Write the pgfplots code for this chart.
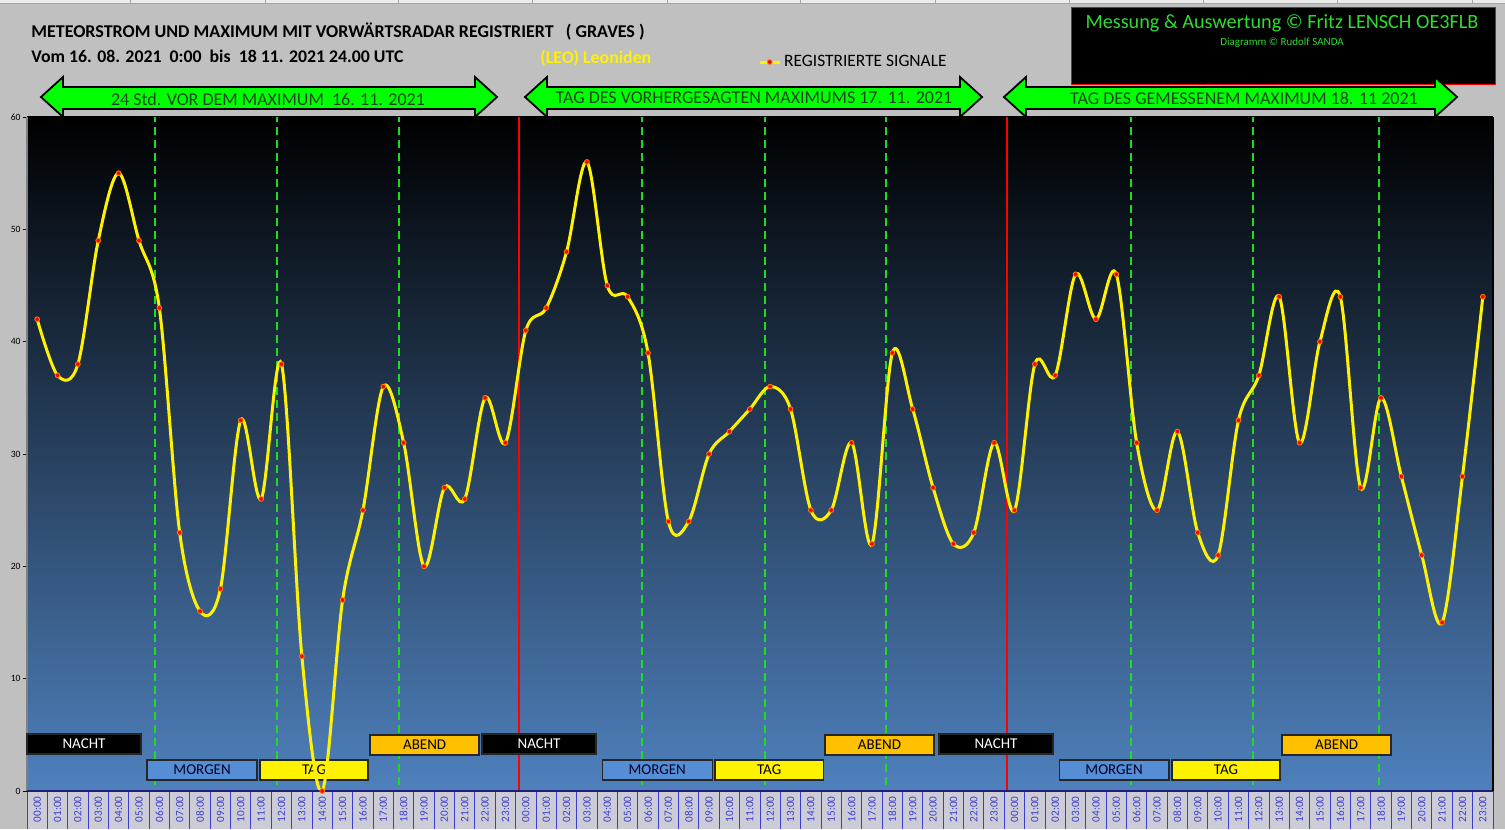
\documentclass[border=0pt]{standalone}
\usepackage{fontspec}
\setmainfont{Carlito}
\usepackage{pgfplots}
\pgfplotsset{compat=1.18}
\definecolor{bggray}{RGB}{192,192,192}
\definecolor{arrowgreen}{RGB}{0,255,0}
\definecolor{arrowtext}{RGB}{30,70,30}
\definecolor{boxgreen}{RGB}{45,220,45}
\definecolor{morgen}{RGB}{85,142,213}
\definecolor{abend}{RGB}{255,192,0}
\definecolor{ticklab}{RGB}{60,60,210}
\definecolor{dashgreen}{RGB}{30,220,30}
\definecolor{stripbg}{RGB}{204,204,214}
\definecolor{navyline}{RGB}{30,30,120}
\newcommand{\dbox}[8]{%
  \filldraw[fill=#5, draw=black!85, line width=0.6pt] (axis cs:#1,#3) rectangle (axis cs:#2,#4);
  \node[text=#6, font=\fontsize{7.5}{9}\selectfont, inner sep=0pt] at (axis cs:#7,{0.5*(#3+#4)}) {#8};}
\begin{document}
\begin{tikzpicture}
\begin{scope}[x=0.5pt,y=-0.5pt]
\useasboundingbox (0,0) rectangle (1505,829);
\fill[bggray] (0,0) rectangle (1505,829);
\fill[gray!15] (0,0) rectangle (1505,3);
\draw[gray!70, line width=0.4pt] (0,3) -- (1505,3);
\foreach \cx in {130,265,398,532,667,800,935,1069,1203,1337,1472}{\draw[gray!70, line width=0.4pt] (\cx,0) -- (\cx,3);}
\fill[stripbg] (27,791) rectangle (1493,829);
% info box
\fill[black] (1071,7) rectangle (1495,84);
\draw[red, line width=0.5pt] (1071,7) rectangle (1495,84);
\node[text=boxgreen, font=\fontsize{10.1}{12}\selectfont, inner sep=0pt] at (1282,23) {Messung \& Auswertung © Fritz LENSCH OE3FLB};
\node[text=boxgreen, font=\fontsize{5.5}{6}\selectfont, inner sep=0pt] at (1282,43) {Diagramm © Rudolf SANDA};
% titles
\node[anchor=base west, inner sep=0pt, font=\bfseries\fontsize{9.0}{11}\selectfont] at (31,37) {METEORSTROM UND MAXIMUM MIT VORWÄRTSRADAR REGISTRIERT\ \ \ ( GRAVES )};
\node[anchor=base west, inner sep=0pt, font=\bfseries\fontsize{8.9}{11}\selectfont] at (31,62) {Vom 16. 08. 2021\ \ 0:00\ \ bis\ \ 18 11. 2021 24.00 UTC};
\node[anchor=base west, inner sep=0pt, text=yellow, font=\bfseries\fontsize{8.9}{10}\selectfont] at (540,63) {(LEO) Leoniden};
\end{scope}
\begin{axis}[
  at={(13.5pt,-395.5pt)}, anchor=south west, scale only axis,
  width=733pt, height=337pt,
  xmin=-0.5, xmax=71.5, ymin=0, ymax=60,
  clip=false,
  axis background/.style={top color=black, middle color={rgb,255:red,40;green,66;blue,104}, bottom color={rgb,255:red,79;green,129;blue,189}},
  separate axis lines,
  x axis line style={draw=black, line width=0.8pt},
  y axis line style={draw=gray, line width=0.8pt},
  tick align=outside,
  tick pos=left,
  major tick length=2pt,
  xtick={0,...,71},
  xticklabels={00:00,01:00,02:00,03:00,04:00,05:00,06:00,07:00,08:00,09:00,10:00,11:00,12:00,13:00,14:00,15:00,16:00,17:00,18:00,19:00,20:00,21:00,22:00,23:00,
               00:00,01:00,02:00,03:00,04:00,05:00,06:00,07:00,08:00,09:00,10:00,11:00,12:00,13:00,14:00,15:00,16:00,17:00,18:00,19:00,20:00,21:00,22:00,23:00,
               00:00,01:00,02:00,03:00,04:00,05:00,06:00,07:00,08:00,09:00,10:00,11:00,12:00,13:00,14:00,15:00,16:00,17:00,18:00,19:00,20:00,21:00,22:00,23:00},
  xtick style={draw=none},
  xticklabel style={rotate=90, anchor=east, font=\fontsize{5.6}{6}\selectfont, text=ticklab, inner sep=0.5pt},
  ytick={0,10,...,60},
  ytick style={draw=black, line width=0.4pt},
  yticklabel style={font=\fontsize{4.8}{5}\selectfont, inner sep=1pt},
  /pgf/number format/assume math mode=true,
  legend style={at={(0.4985,1.0816)}, anchor=west, draw=none, fill=none, inner sep=0pt, font=\fontsize{8.7}{10}\selectfont, nodes={inner sep=1.5pt}},
  legend image code/.code={\draw[mark repeat=2,mark phase=2,#1] plot coordinates {(0pt,0pt) (5pt,0pt) (10pt,0pt)};},
]
% category separators in the label strip
\pgfplotsinvokeforeach{-0.5,0.5,...,71.5}{\draw[ticklab, line width=0.5pt] (axis cs:#1,0) -- ([yshift=-19pt]axis cs:#1,0);}
% green dashed lines
\pgfplotsinvokeforeach{5.79,11.78,17.77,29.7,35.75,41.69,53.72,59.71,65.9}{\draw[dashgreen, line width=1pt, dash pattern=on 4pt off 2.5pt] (axis cs:#1,0.5) -- (axis cs:#1,60);}
% red day separators
\draw[red, line width=1pt] (axis cs:23.66,0) -- (axis cs:23.66,60);
\draw[red, line width=1pt] (axis cs:47.63,0) -- (axis cs:47.63,60);
% period boxes
\dbox{-0.5}{5.1}{3.29}{5.07}{black}{white}{2.3}{NACHT}
\dbox{5.39}{10.8}{0.98}{2.76}{morgen}{black!85!blue}{8.1}{MORGEN}
\dbox{10.94}{16.25}{0.98}{2.76}{yellow}{black}{13.6}{TAG}
\dbox{16.35}{21.7}{3.2}{4.99}{abend}{black}{19.03}{ABEND}
\dbox{21.85}{27.45}{3.29}{5.07}{black}{white}{24.65}{NACHT}
\dbox{27.75}{33.15}{0.98}{2.76}{morgen}{black!85!blue}{30.45}{MORGEN}
\dbox{33.29}{38.6}{0.98}{2.76}{yellow}{black}{35.95}{TAG}
\dbox{38.69}{44.05}{3.2}{4.99}{abend}{black}{41.37}{ABEND}
\dbox{44.29}{49.89}{3.29}{5.07}{black}{white}{47.09}{NACHT}
\dbox{50.19}{55.59}{0.98}{2.76}{morgen}{black!85!blue}{52.89}{MORGEN}
\dbox{55.73}{61.04}{0.98}{2.76}{yellow}{black}{58.39}{TAG}
\dbox{61.14}{66.49}{3.2}{4.99}{abend}{black}{63.82}{ABEND}
\addplot[yellow, line width=1.5pt, smooth, tension=0.55, mark=*, mark size=1.2pt, mark options={fill=red, draw=orange, line width=0.4pt, solid}] coordinates {
(0,42) (1,37) (2,38) (3,49) (4,55) (5,49) (6,43) (7,23) (8,16) (9,18) (10,33) (11,26)
(12,38) (13,12) (14,0) (15,17) (16,25) (17,36) (18,31) (19,20) (20,27) (21,26) (22,35) (23,31)
(24,41) (25,43) (26,48) (27,56) (28,45) (29,44) (30,39) (31,24) (32,24) (33,30) (34,32) (35,34)
(36,36) (37,34) (38,25) (39,25) (40,31) (41,22) (42,39) (43,34) (44,27) (45,22) (46,23) (47,31)
(48,25) (49,38) (50,37) (51,46) (52,42) (53,46) (54,31) (55,25) (56,32) (57,23) (58,21) (59,33)
(60,37) (61,44) (62,31) (63,40) (64,44) (65,27) (66,35) (67,28) (68,21) (69,15) (70,28) (71,44)
};
\addlegendentry{REGISTRIERTE SIGNALE}
% axis frame details
\draw[navyline, line width=1pt] (rel axis cs:0,0) -- (rel axis cs:1,0);
\draw[black, line width=1pt] (rel axis cs:1,0) -- (rel axis cs:1,1);
\end{axis}
\begin{scope}[x=0.5pt,y=-0.5pt]
% green double arrows
\foreach \L/\R in {41/497, 525/982, 1004/1457}{
  \filldraw[fill=arrowgreen, draw=black, line width=0.9pt, line join=miter]
    (\L,97) -- (\L+22,77) -- (\L+22,87) -- (\R-22,87) -- (\R-22,77) -- (\R,97) -- (\R-22,117) -- (\R-22,109) -- (\L+22,109) -- (\L+22,117) -- cycle;
}
\node[text=arrowtext, font=\fontsize{9}{11}\selectfont, inner sep=0pt] at (268,99) {24 Std. VOR DEM MAXIMUM\ \ 16. 11. 2021};
\node[text=arrowtext, font=\fontsize{9}{11}\selectfont, inner sep=0pt] at (754,98) {TAG DES VORHERGESAGTEN MAXIMUMS 17. 11. 2021};
\node[text=arrowtext, font=\fontsize{9}{11}\selectfont, inner sep=0pt] at (1244,98) {TAG DES GEMESSENEM MAXIMUM 18. 11 2021};
\end{scope}
\end{tikzpicture}
\end{document}
